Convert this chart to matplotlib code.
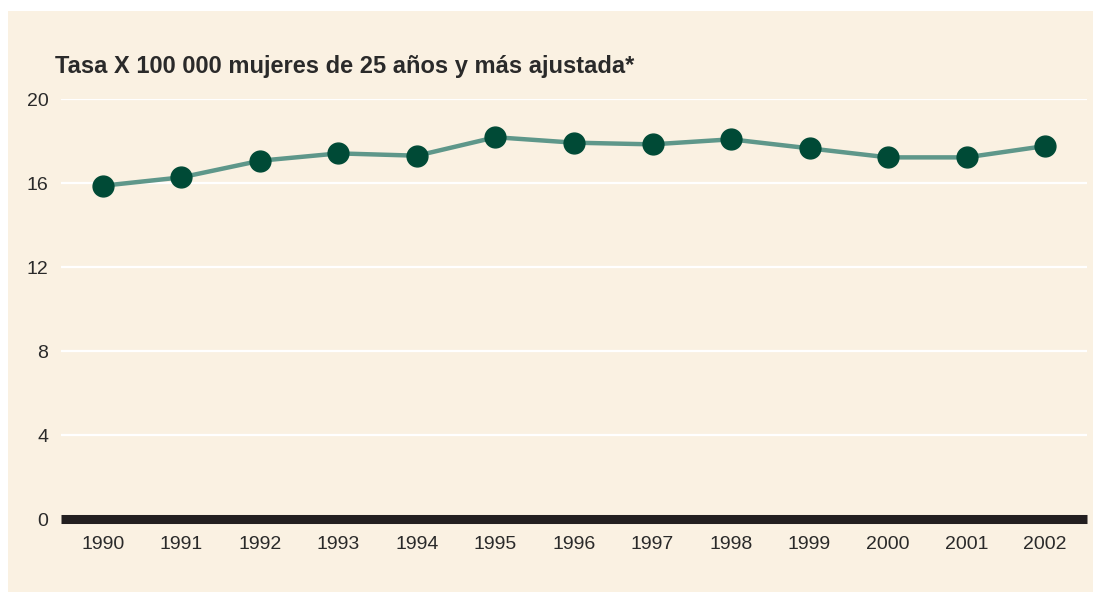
import numpy as np
import matplotlib.pyplot as plt

years = [1990, 1991, 1992, 1993, 1994, 1995, 1996, 1997, 1998, 1999, 2000, 2001, 2002]
tasa = [15.87, 16.27, 17.06, 17.41, 17.30, 18.18, 17.92, 17.84, 18.08, 17.65, 17.22, 17.22, 17.76]
yticks = [0, 4, 8, 12, 16, 20]
title = 'Tasa X 100 000 mujeres de 25 años y más ajustada*'

bg = '#FAF1E2'
plt.rcParams['font.family'] = ['Liberation Sans', 'DejaVu Sans']

W, H = 1093, 592
fig = plt.figure(figsize=(W / 100, H / 100), dpi=100)
fig.patch.set_facecolor('white')
# beige panel (white strip on top and left)
fig.patches.append(plt.Rectangle((8 / W, 0), 1, 1 - 11 / H, transform=fig.transFigure,
                                 facecolor=bg, edgecolor='none', zorder=-5))

ax = fig.add_axes([61 / W, (H - 519) / H, (1087 - 61) / W, 420 / H])
ax.patch.set_alpha(0)
for s in ax.spines.values():
    s.set_visible(False)

ax.set_xlim(1989.465, 2002.535)
ax.set_ylim(0, 20)

for t in yticks[1:]:
    ax.axhline(t, color='white', lw=1.6, zorder=1)
ax.axhline(0, color='#231F20', lw=6.5, zorder=2, solid_capstyle='butt', clip_on=False)

ax.plot(years, tasa, color='#5E978A', lw=3.2, zorder=3,
        marker='o', markersize=15, markerfacecolor='#004A36', markeredgecolor='#004A36')

ax.set_yticks(yticks)
ax.set_xticks(years)
ax.set_xticklabels([str(y) for y in years])
ax.tick_params(axis='both', length=0, labelsize=14, labelcolor='#2A2A2A')
ax.tick_params(axis='x', pad=12)
ax.tick_params(axis='y', pad=9)

fig.text(55 / W, 1 - 73 / H, title, fontsize=17, fontweight='bold', color='#2A2A2A',
         ha='left', va='baseline')

fig.savefig('out.png', dpi=100, facecolor=fig.get_facecolor())
